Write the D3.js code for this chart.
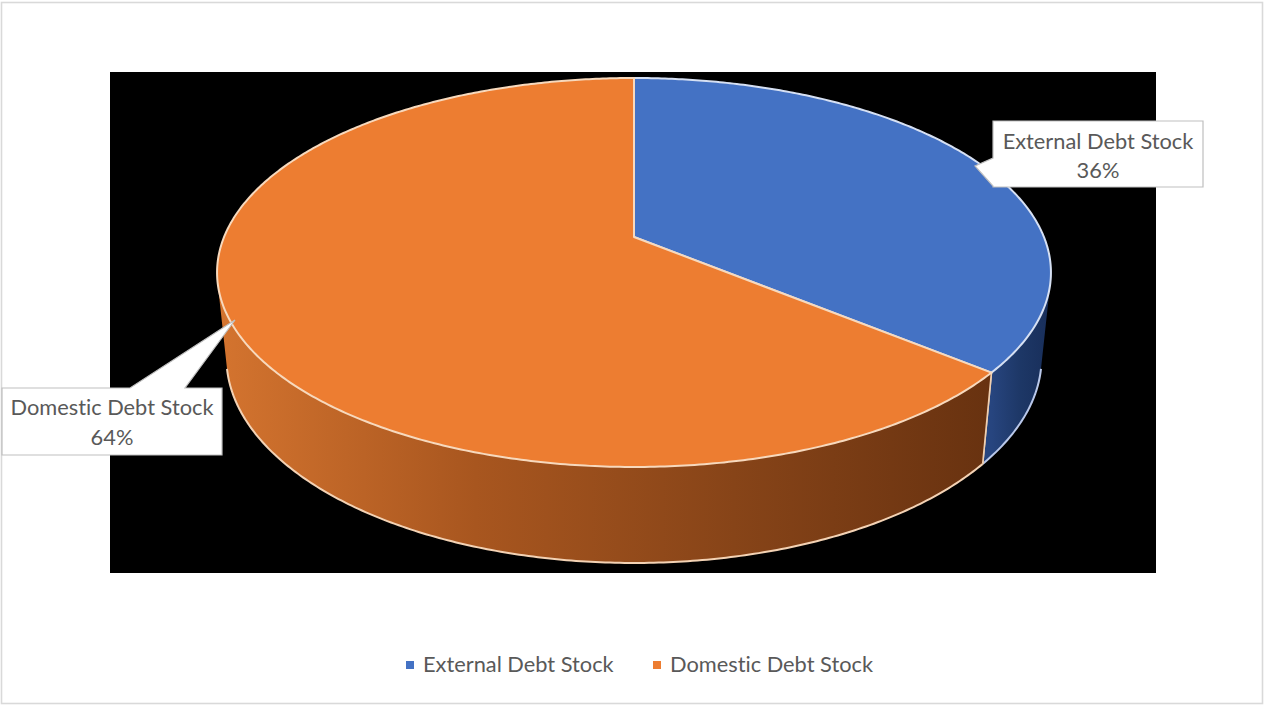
<!DOCTYPE html>
<html>
<head>
<meta charset="utf-8">
<script src="https://cdn.jsdelivr.net/npm/d3@7"></script>
<style>
  html, body { margin: 0; padding: 0; background: #ffffff; }
  svg { display: block; }
  text { font-family: Lato, "Open Sans", "Liberation Sans", sans-serif; fill: #595959;
         font-variant-ligatures: none; font-feature-settings: "liga" 0, "clig" 0; }
</style>
</head>
<body>
<svg id="chart" width="1264" height="705"></svg>
<script>
// Debt stock composition
const categories = ["External Debt Stock", "Domestic Debt Stock"];
const values = [36, 64];
const colors = ["#4472C4", "#ED7D31"];
const sideColors = [
  ["#27457f", "#1d3766", "#182e5a"],
  ["#d4742f", "#a8561f", "#874418", "#683210"]
];

const W = 1264, H = 705;
const svg = d3.select("#chart");
const defs = svg.append("defs");

// frame and dark plot area
svg.append("rect").attr("x", 1.5).attr("y", 2.5).attr("width", 1261).attr("height", 701)
  .attr("fill", "#ffffff").attr("stroke", "#d9d9d9").attr("stroke-width", 1.6);
svg.append("rect").attr("x", 110).attr("y", 72).attr("width", 1046).attr("height", 501)
  .attr("fill", "#000000");

// perspective camera for a tilted cylinder (unit radius, thickness h)
const cam = { cx: 634, cy: 237, f: 1996, s: 0.4586, c: 0.8886, L: 4.869, h: 0.2353 };
function project(phi, level) {
  // level 0 = top face, 1 = bottom face
  const x = Math.sin(phi), z = -Math.cos(phi);
  const y = -cam.h * level;
  const depth = cam.L - y * cam.s - z * cam.c;
  const up = y * cam.c - z * cam.s;
  return [cam.cx + cam.f * x / depth, cam.cy - cam.f * up / depth];
}
function arcPoints(a0, a1, level) {
  const n = Math.max(2, Math.ceil(Math.abs(a1 - a0) / 0.01));
  return d3.range(n + 1).map(i => project(a0 + (a1 - a0) * i / n, level));
}

const pie = d3.pie().sort(null).value(d => d);
const arcs = pie(values);
const total = d3.sum(values);
const pct = d3.format(".0%");

// outer wall is visible where its normal faces the camera
const half = Math.acos(1 / (cam.L * cam.c));
const vis0 = Math.PI - half, vis1 = Math.PI + half;

const line = d3.line();
const g = svg.append("g");

arcs.forEach((a, i) => {
  const a0 = Math.max(a.startAngle, vis0), a1 = Math.min(a.endAngle, vis1);
  if (a1 <= a0) return;
  const p0 = project(a0, 0), p1 = project(a1, 0);
  const gid = "side" + i;
  const grad = defs.append("linearGradient").attr("id", gid)
    .attr("gradientUnits", "userSpaceOnUse")
    .attr("x1", Math.min(p0[0], p1[0])).attr("x2", Math.max(p0[0], p1[0]))
    .attr("y1", 0).attr("y2", 0);
  const stops = sideColors[i];
  stops.forEach((col, k) => grad.append("stop")
    .attr("offset", k / (stops.length - 1)).attr("stop-color", col));
  const pts = arcPoints(a0, a1, 0).concat(arcPoints(a1, a0, 1));
  g.append("path").attr("d", line(pts) + "Z")
    .attr("fill", `url(#${gid})`)
    .attr("stroke", "none");
  // lower rim highlight and vertical seams
  g.append("path").attr("d", line(arcPoints(a0, a1, 1)))
    .attr("fill", "none").attr("stroke", i === 0 ? "#b9c8ea" : "#f3d2b4")
    .attr("stroke-width", 2);
  [a0, a1].forEach(t => {
    if (t === vis0 || t === vis1) return;
    g.append("path").attr("d", line([project(t, 0), project(t, 1)]))
      .attr("fill", "none").attr("stroke", "#f0cfb0").attr("stroke-width", 1.6);
  });
});

// top faces
arcs.forEach((a, i) => {
  const centre = [cam.cx, cam.cy];
  const poly = [centre].concat(arcPoints(a.startAngle, a.endAngle, 0));
  g.append("path").attr("d", line(poly) + "Z")
    .attr("fill", colors[i])
    .attr("stroke", i === 0 ? "#d6e0f3" : "#f7d9bd")
    .attr("stroke-width", 2)
    .attr("stroke-linejoin", "round");
});

// callout labels
const callouts = [
  { box: [993, 121, 1203, 187],
    shape: b => `M${b[0]},${b[1]}H${b[2]}V${b[3]}H${b[0]}V186L975,166L${b[0]},158Z`,
    tx: 1098, ty: [149, 178] },
  { box: [2, 388, 222, 455],
    shape: b => `M${b[0]},${b[1]}H130L235,320L185,${b[1]}H${b[2]}V${b[3]}H${b[0]}Z`,
    tx: 112, ty: [415, 445] }
];
callouts.forEach((c, i) => {
  svg.append("path").attr("d", c.shape(c.box))
    .attr("fill", "#ffffff").attr("stroke", "#bfbfbf").attr("stroke-width", 1.2);
  const t = svg.append("text").attr("text-anchor", "middle").attr("font-size", 21.8);
  t.append("tspan").attr("x", c.tx).attr("y", c.ty[0]).text(categories[i]);
  t.append("tspan").attr("x", c.tx).attr("y", c.ty[1]).text(pct(values[i] / total));
});

// legend
const legendX = [406, 653];
categories.forEach((name, i) => {
  svg.append("rect").attr("x", legendX[i]).attr("y", 661).attr("width", 8).attr("height", 8)
    .attr("fill", colors[i]);
  svg.append("text").attr("x", legendX[i] + 17).attr("y", 672)
    .attr("font-size", 21.8).text(name);
});
</script>
</body>
</html>
